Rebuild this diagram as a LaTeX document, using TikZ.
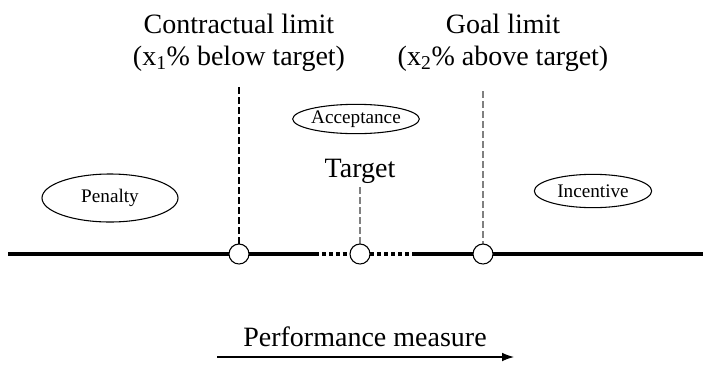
\documentclass[tikz,border=0pt]{standalone}
\usepackage{fontspec}
\setmainfont{Liberation Serif}
\usetikzlibrary{shapes.geometric,arrows.meta}
\tikzset{
	oval/.style={draw,ellipse,line width=0.8pt,inner sep=0pt,font=\fontsize{14.4}{17}\selectfont},
	knot/.style={draw,circle,fill=white,line width=0.8pt,minimum size=15pt,inner sep=0pt},
	guide/.style={line width=0.85pt,dash pattern=on 5pt off 2.5pt},
	axisline/.style={line width=2.5pt},
	dotline/.style={line width=2.5pt,dash pattern=on 3pt off 2.2pt},
	big/.style={font=\fontsize{21}{24}\selectfont,align=center}
}
\begin{document}
\begin{tikzpicture}[x=0.75pt,y=-0.75pt]
	\useasboundingbox (0,0) rectangle (711,365);
	\coordinate (left) at (8,254);%linkes Ende
	\coordinate (right) at (703,254);%rechtes Ende
	\coordinate (b1) at (315,254);%Beginn gestrichelt
	\coordinate (b2) at (413,254);%Ende gestrichelt
	\coordinate (top1) at (239,87);
	\coordinate (top3) at (483,91);
	\node[big] (climit) at (239,43) {Contractual limit\\(x\textsubscript{1}\% below target)};
	\node[big] (glimit) at (503,43) {Goal limit\\(x\textsubscript{2}\% above target)};
	\node[oval,minimum width=102pt,minimum height=36pt] (penalty) at (110,198) {Penalty};
	\node[oval,minimum width=86pt,minimum height=22pt] (accept) at (356,119) {Acceptance};
	\node[oval,minimum width=88pt,minimum height=25pt] (incent) at (593,191) {Incentive};
	\node[big,anchor=base,inner sep=3pt] (target) at (360,177) {Target};
	\draw[axisline] (left) -- (b1);%durchgezogen links
	\draw[dotline] (b1) -- (b2);%gestrichelt Mitte
	\draw[axisline] (b2) -- (right);%durchgezogen rechts
	\draw[guide] (top1) -- (239,254);%Vertragsgrenze
	\draw[guide,gray] (top3) -- (483,254);%Zielgrenze
	\draw[guide,gray] (target.south) -- (360,254);%Sollwert
	\node[knot] (c1) at (239,254) {};
	\node[knot] (c2) at (360,254) {};
	\node[knot] (c3) at (483,254) {};
	\coordinate (a1) at (217,357);
	\coordinate (a2) at (514,357);
	\draw[line width=0.85pt,-{Latex[length=9pt,width=6.5pt]}] (a1) -- (a2);%Leistungsachse
	\node[big,anchor=base] (measure) at (365,346) {Performance measure};
\end{tikzpicture}
\end{document}
